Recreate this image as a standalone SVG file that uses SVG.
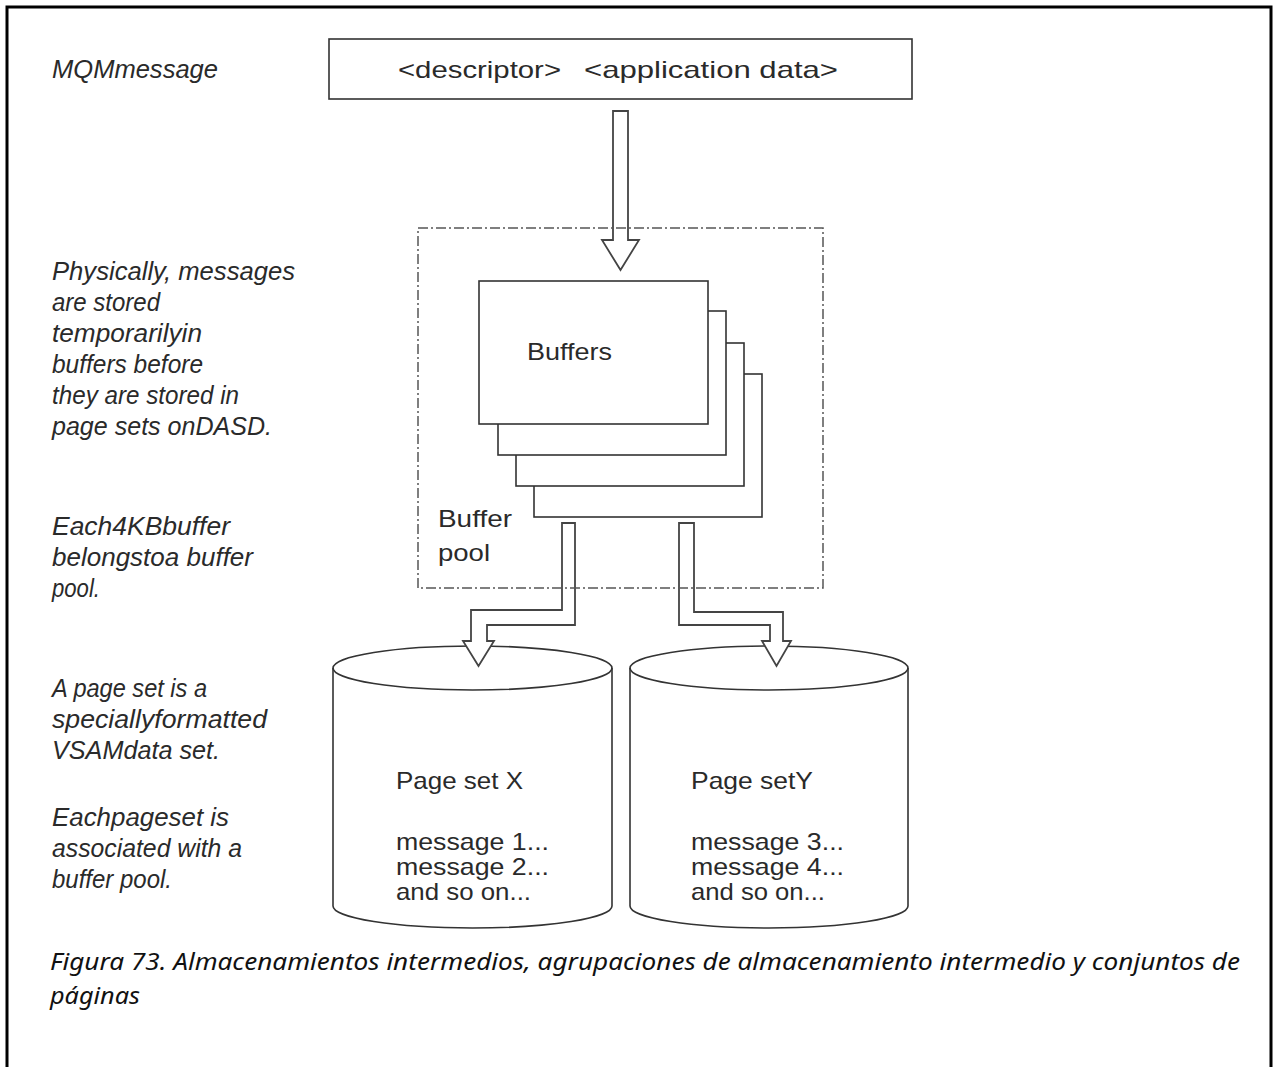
<svg xmlns="http://www.w3.org/2000/svg" width="1274" height="1067" viewBox="0 0 1274 1067">
<style>
.it{font-family:"Liberation Sans",Arial,sans-serif;font-style:italic;font-size:25px;fill:#2a2a2a}
.sn{font-family:"Liberation Sans",Arial,sans-serif;font-size:24px;fill:#2a2a2a}
.cap{font-family:"Noto Sans","Open Sans",sans-serif;font-style:italic;font-size:23px;fill:#111}
.box{fill:#fff;stroke:#333;stroke-width:1.6}
.arr{fill:#fff;stroke:#444;stroke-width:1.8;stroke-linejoin:miter}
.pool{fill:none;stroke:#555;stroke-width:1.5;stroke-dasharray:10 3 2 3}
</style>
<rect x="0" y="0" width="1274" height="1067" fill="#fff"/>
<path d="M7,1070 V7 H1271 V1070" fill="none" stroke="#000" stroke-width="3"/>
<g id="notes">
<text class="it" x="52" y="78" textLength="166" lengthAdjust="spacingAndGlyphs">MQMmessage</text>
<text class="it" x="52" y="280" textLength="243" lengthAdjust="spacingAndGlyphs">Physically, messages</text>
<text class="it" x="52" y="311" textLength="108" lengthAdjust="spacingAndGlyphs">are stored</text>
<text class="it" x="52" y="342" textLength="150" lengthAdjust="spacingAndGlyphs">temporarilyin</text>
<text class="it" x="52" y="373" textLength="151" lengthAdjust="spacingAndGlyphs">buffers before</text>
<text class="it" x="52" y="404" textLength="187" lengthAdjust="spacingAndGlyphs">they are stored in</text>
<text class="it" x="52" y="435" textLength="220" lengthAdjust="spacingAndGlyphs">page sets onDASD.</text>
<text class="it" x="52" y="535" textLength="178" lengthAdjust="spacingAndGlyphs">Each4KBbuffer</text>
<text class="it" x="52" y="566" textLength="201" lengthAdjust="spacingAndGlyphs">belongstoa buffer</text>
<text class="it" x="52" y="597" textLength="48" lengthAdjust="spacingAndGlyphs">pool.</text>
<text class="it" x="52" y="697" textLength="155" lengthAdjust="spacingAndGlyphs">A page set is a</text>
<text class="it" x="52" y="728" textLength="215" lengthAdjust="spacingAndGlyphs">speciallyformatted</text>
<text class="it" x="52" y="759" textLength="168" lengthAdjust="spacingAndGlyphs">VSAMdata set.</text>
<text class="it" x="52" y="826" textLength="177" lengthAdjust="spacingAndGlyphs">Eachpageset is</text>
<text class="it" x="52" y="857" textLength="190" lengthAdjust="spacingAndGlyphs">associated with a</text>
<text class="it" x="52" y="888" textLength="120" lengthAdjust="spacingAndGlyphs">buffer pool.</text>
</g>
<g id="mqm-message">
<rect class="box" x="329" y="39" width="583" height="60"/>
<text class="sn" x="398" y="78" textLength="163" lengthAdjust="spacingAndGlyphs">&lt;descriptor&gt;</text>
<text class="sn" x="584" y="78" textLength="254" lengthAdjust="spacingAndGlyphs">&lt;application data&gt;</text>
</g>
<g id="page-set-x">
<path class="box" d="M333,668 V906 A139.5,22 0 0 0 612,906 V668 A139.5,22 0 0 0 333,668 Z"/>
<path d="M333,668 A139.5,22 0 0 0 612,668" fill="none" stroke="#333" stroke-width="1.6"/>
<text class="sn" x="396" y="789" textLength="127" lengthAdjust="spacingAndGlyphs">Page set X</text>
<text class="sn" x="396" y="850" textLength="153" lengthAdjust="spacingAndGlyphs">message 1...</text>
<text class="sn" x="396" y="875" textLength="153" lengthAdjust="spacingAndGlyphs">message 2...</text>
<text class="sn" x="396" y="900" textLength="135" lengthAdjust="spacingAndGlyphs">and so on...</text>
</g>
<g id="page-set-y">
<path class="box" d="M630,668 V906 A139,22 0 0 0 908,906 V668 A139,22 0 0 0 630,668 Z"/>
<path d="M630,668 A139,22 0 0 0 908,668" fill="none" stroke="#333" stroke-width="1.6"/>
<text class="sn" x="691" y="789" textLength="122" lengthAdjust="spacingAndGlyphs">Page setY</text>
<text class="sn" x="691" y="850" textLength="153" lengthAdjust="spacingAndGlyphs">message 3...</text>
<text class="sn" x="691" y="875" textLength="153" lengthAdjust="spacingAndGlyphs">message 4...</text>
<text class="sn" x="691" y="900" textLength="134" lengthAdjust="spacingAndGlyphs">and so on...</text>
</g>
<g id="buffers">
<rect class="box" x="534" y="374" width="228" height="143"/>
<rect class="box" x="516" y="343" width="228" height="143"/>
<rect class="box" x="498" y="311" width="228" height="144"/>
<rect class="box" x="479" y="281" width="229" height="143"/>
<text class="sn" x="527" y="360" textLength="85" lengthAdjust="spacingAndGlyphs">Buffers</text>
</g>
<g id="connectors">
<polygon class="arr" points="613,111 628,111 628,240 639,240 620.5,270 602,240 613,240"/>
<polygon class="arr" points="562,523 575,523 575,625 487,625 487,641 494,641 478.5,666 463,641 471,641 471,610 562,610"/>
<polygon class="arr" points="679,523 694,523 694,612 783,612 783,641 791,641 776.5,666 762,641 770,641 770,625 679,625"/>
</g>
<g id="buffer-pool">
<rect class="pool" x="418" y="228" width="405" height="360"/>
<text class="sn" x="438" y="527" textLength="74" lengthAdjust="spacingAndGlyphs">Buffer</text>
<text class="sn" x="438" y="561" textLength="52" lengthAdjust="spacingAndGlyphs">pool</text>
</g>
<g id="caption">
<text class="cap" x="50" y="970" textLength="1190" lengthAdjust="spacingAndGlyphs">Figura 73. Almacenamientos intermedios, agrupaciones de almacenamiento intermedio y conjuntos de</text>
<text class="cap" x="50" y="1004" textLength="90" lengthAdjust="spacingAndGlyphs">páginas</text>
</g>
</svg>
